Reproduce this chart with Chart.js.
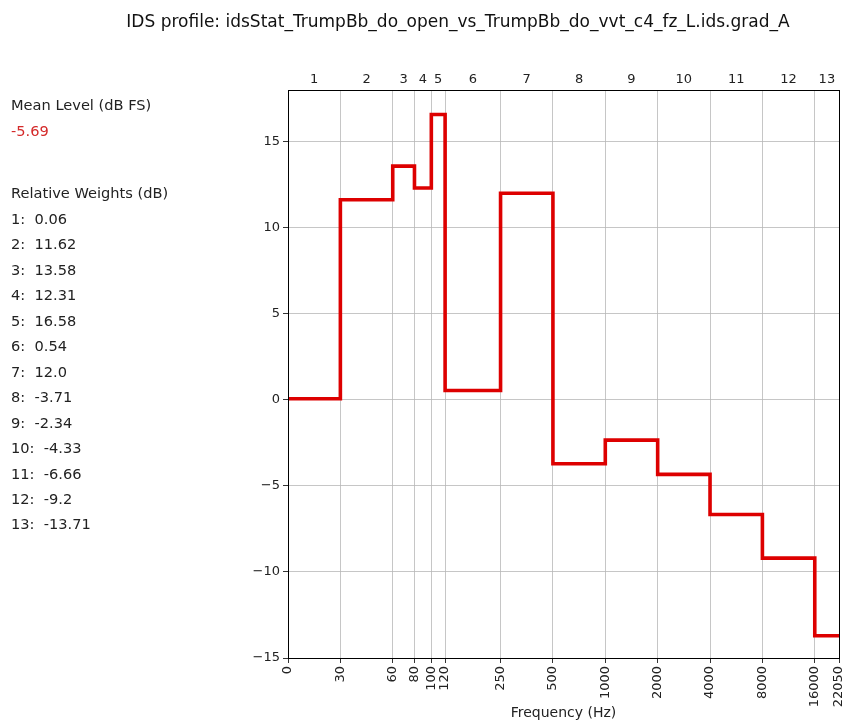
<!DOCTYPE html>
<html>
<head>
<meta charset="utf-8">
<script src="https://cdn.jsdelivr.net/npm/chart.js@4.4.1/dist/chart.umd.min.js"></script>
<style>
  body { margin: 0; background: #fff; font-family: "DejaVu Sans", sans-serif; }
  #wrap { position: relative; width: 848px; height: 724px; }
  #ids { position: absolute; left: 0; top: 0; }
  #title { position: absolute; left: 0; width: 916px; top: 11px; text-align: center; font-size: 17px; color: #111; }
  .side { position: absolute; left: 11px; font-size: 14.6px; color: #222; white-space: pre; line-height: 18px; }
</style>
</head>
<body>
<div id="wrap">
  <canvas id="ids" width="848" height="724"></canvas>
  <div id="title">IDS profile: idsStat_TrumpBb_do_open_vs_TrumpBb_do_vvt_c4_fz_L.ids.grad_A</div>
  <div id="side"></div>
</div>
<script>
// band edges in Hz and labels for the frequency axis
var bandEdges = [0, 30, 60, 80, 100, 120, 250, 500, 1000, 2000, 4000, 8000, 16000, 22050];
var bandNames = ['1', '2', '3', '4', '5', '6', '7', '8', '9', '10', '11', '12', '13'];
var relWeights = [0.06, 11.62, 13.58, 12.31, 16.58, 0.54, 12.0, -3.71, -2.34, -4.33, -6.66, -9.2, -13.71];
var meanLevel = -5.69;
var yTicks = [-15, -10, -5, 0, 5, 10, 15];

// octave position, the lowest edge sits one octave below 30 Hz
function oct(f) {
    return Math.log2(Math.max(f, 15));
}

function fmt(v) {
    return Number.isInteger(v) ? v.toFixed(1) : String(v);
}

var bandCenters = bandNames.map((n, i) => (oct(bandEdges[i]) + oct(bandEdges[i + 1])) / 2);

// left hand text block
var side = document.getElementById('side');
function addLine(txt, mid, color) {
    var d = document.createElement('div');
    d.className = 'side';
    d.style.top = (mid - 9) + 'px';
    if (color) d.style.color = color;
    d.textContent = txt;
    side.appendChild(d);
}
addLine('Mean Level (dB FS)', 105);
addLine(fmt(meanLevel), 131, '#d42a2a');
addLine('Relative Weights (dB)', 193);
relWeights.forEach((w, i) => {
    addLine(bandNames[i] + ':  ' + fmt(w), 219 + i * 25.45);
});

var stepData = bandEdges.map((f, i) => ({
    x: oct(f),
    y: relWeights[Math.min(i, relWeights.length - 1)]
}));

var framePlugin = {
    id: 'frame',
    afterDatasetsDraw: function (chart) {
        var a = chart.chartArea;
        var ctx = chart.ctx;
        ctx.save();
        ctx.strokeStyle = '#000';
        ctx.lineWidth = 1;
        ctx.strokeRect(Math.round(a.left) + 0.5, Math.round(a.top) + 0.5, Math.round(a.right - a.left), Math.round(a.bottom - a.top));
        ctx.restore();
    }
};

var tickFont = { family: 'DejaVu Sans', size: 13 };

var ctx = document.getElementById('ids').getContext('2d');
var chart = new Chart(ctx, {
    type: 'line',
    data: {
        datasets: [{
            data: stepData,
            stepped: 'before',
            borderColor: '#dd0000',
            borderWidth: 3.6,
            pointRadius: 0,
            fill: false
        }]
    },
    options: {
        responsive: false,
        animation: false,
        devicePixelRatio: 1,
        layout: { padding: { left: 0, right: 0, top: 0, bottom: 0 } },
        plugins: {
            legend: { display: false },
            tooltip: { enabled: false },
            title: { display: false }
        },
        scales: {
            x: {
                type: 'linear',
                position: 'bottom',
                min: oct(bandEdges[0]),
                max: oct(bandEdges[bandEdges.length - 1]),
                afterBuildTicks: function (scale) {
                    scale.ticks = bandEdges.map(f => ({ value: oct(f) }));
                },
                afterFit: function (scale) {
                    scale.height = 66;
                    scale.paddingRight = 9;
                },
                ticks: {
                    autoSkip: false,
                    minRotation: 90,
                    maxRotation: 90,
                    padding: 3,
                    color: '#222',
                    font: tickFont,
                    callback: function (v, i) { return String(bandEdges[i]); }
                },
                grid: { color: '#b8b8b8', lineWidth: 0.8, tickColor: '#000', tickLength: 5 },
                border: { color: '#000' },
                title: {
                    display: true,
                    text: 'Frequency (Hz)',
                    color: '#222',
                    font: { family: 'DejaVu Sans', size: 14 },
                    padding: { top: 0, bottom: 2 }
                }
            },
            x2: {
                type: 'linear',
                position: 'top',
                min: oct(bandEdges[0]),
                max: oct(bandEdges[bandEdges.length - 1]),
                afterBuildTicks: function (scale) {
                    scale.ticks = bandCenters.map(c => ({ value: c }));
                },
                afterFit: function (scale) {
                    scale.height = 90;
                    scale.paddingRight = 9;
                },
                ticks: {
                    autoSkip: false,
                    maxRotation: 0,
                    padding: 3,
                    color: '#222',
                    font: tickFont,
                    callback: function (v, i) { return bandNames[i]; }
                },
                grid: { display: false, drawTicks: false },
                border: { color: '#000' }
            },
            y: {
                min: -15,
                max: 18,
                afterBuildTicks: function (scale) {
                    scale.ticks = yTicks.map(v => ({ value: v }));
                },
                afterFit: function (scale) { scale.width = 288; },
                ticks: {
                    padding: 3,
                    color: '#222',
                    font: tickFont,
                    callback: function (v) { return String(v).replace('-', '\u2212'); }
                },
                grid: { color: '#b8b8b8', lineWidth: 0.8, tickColor: '#000', tickLength: 5 },
                border: { color: '#000' }
            }
        }
    },
    plugins: [framePlugin]
});
</script>
</body>
</html>
